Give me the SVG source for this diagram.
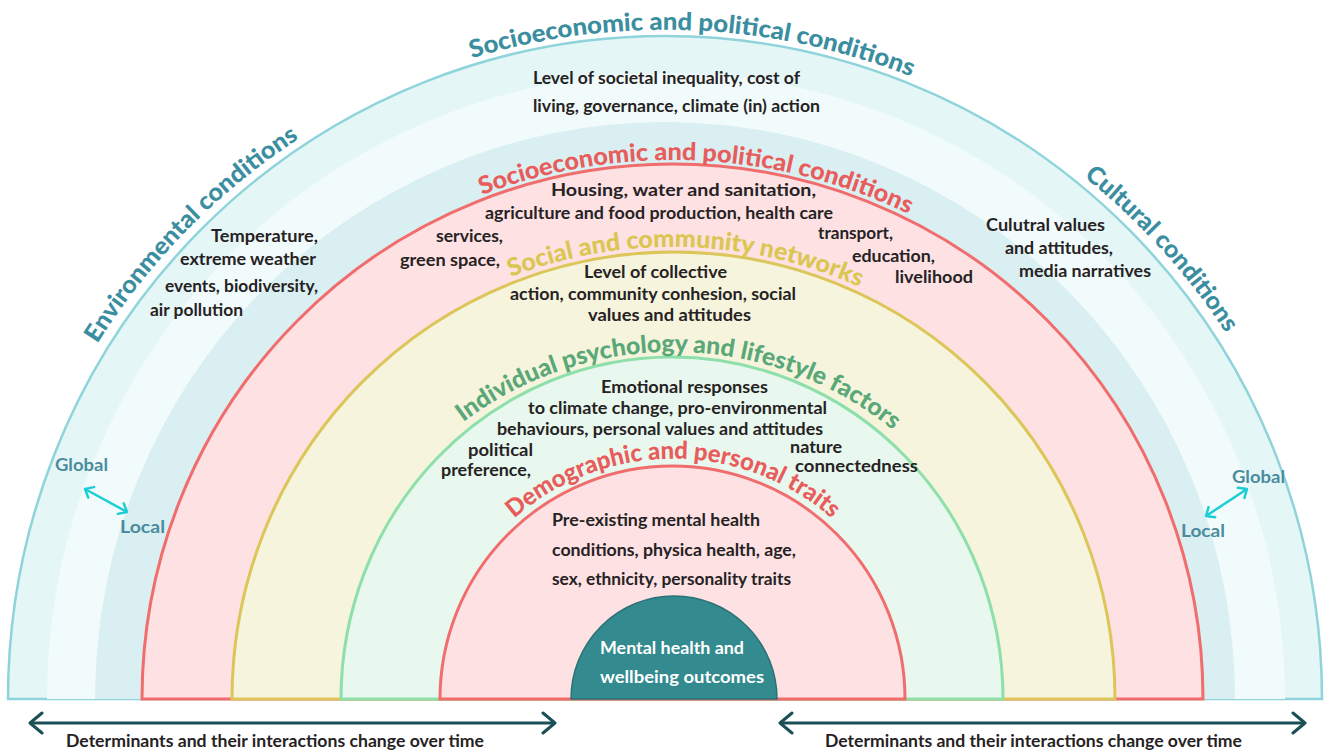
<svg xmlns="http://www.w3.org/2000/svg" width="1329" height="753" viewBox="0 0 1329 753">
<style>
.body{font-family:Lato,"Open Sans","Liberation Sans",sans-serif;font-weight:700;font-size:16.5px;fill:#262223}
.white{fill:#ffffff}
.title{font-family:Lato,"Open Sans","Liberation Sans",sans-serif;font-weight:900;font-size:24.5px}
.teal{fill:#3b8ea0}
.red{fill:#e85c5c}
.yellow{fill:#dac651}
.green{fill:#5aa878}
.gl{font-family:Lato,"Open Sans","Liberation Sans",sans-serif;font-weight:700;font-size:16.5px;fill:#4a8c9d}
.foot{font-family:Lato,"Open Sans","Liberation Sans",sans-serif;font-weight:700;font-size:16.5px;fill:#262223}
</style>
<defs>
<path id="pOuter" d="M 5.2 816.3 A 670 670 0 1 1 1324.8 816.3"/>
<path id="pRed" d="M 141.2 793.8 A 540 540 0 1 1 1204.8 793.8"/>
<path id="pYellow" d="M 226.9 778.7 A 453 453 0 1 1 1119.1 778.7"/>
<path id="pGreen" d="M 330.3 760.4 A 348 348 0 1 1 1015.7 760.4"/>
<path id="pDemo" d="M 435.7 741.8 A 241 241 0 1 1 910.3 741.8"/>
<marker id="headDark" viewBox="-14 -12 16 24" refX="0" refY="0" markerWidth="16" markerHeight="24" markerUnits="userSpaceOnUse" orient="auto-start-reverse">
<path d="M -12 -10 L 0 0 L -12 10" fill="none" stroke="#1b4f56" stroke-width="3" stroke-linecap="round" stroke-linejoin="round"/>
</marker>
<marker id="headCyan" viewBox="-10 -8 12 16" refX="0" refY="0" markerWidth="12" markerHeight="16" markerUnits="userSpaceOnUse" orient="auto-start-reverse">
<path d="M -7 -6 L 0 0 L -7 6" fill="none" stroke="#1dcdd6" stroke-width="2.5" stroke-linecap="round" stroke-linejoin="round"/>
</marker>
</defs>

<g id="ring-outer">
<path d="M 8 699 A 657 663 0 0 1 1322 699 Z" fill="#e5f6f7" stroke="#8fd4db" stroke-width="2.5"/>
<path d="M 47 699 A 619 626 0 0 1 1285 699 Z" fill="#f2fbfb"/>
<path d="M 95 699 A 570 577 0 0 1 1235 699 Z" fill="#daeff1"/>
<text class="title teal"><textPath href="#pOuter" startOffset="1197.4" text-anchor="middle" textLength="448" lengthAdjust="spacingAndGlyphs">Socioeconomic and political conditions</textPath></text>
<text class="title teal"><textPath href="#pOuter" startOffset="637.3" text-anchor="middle" textLength="290" lengthAdjust="spacingAndGlyphs">Environmental conditions</textPath></text>
<text class="title teal"><textPath href="#pOuter" startOffset="1727.7" text-anchor="middle" textLength="212" lengthAdjust="spacingAndGlyphs">Cultural conditions</textPath></text>
<text class="body" x="533" y="84" textLength="267" lengthAdjust="spacingAndGlyphs">Level of societal inequality, cost of</text>
<text class="body" x="533" y="112" textLength="287" lengthAdjust="spacingAndGlyphs">living, governance, climate (in) action</text>
<text class="body" x="211" y="242" textLength="107" lengthAdjust="spacingAndGlyphs">Temperature,</text>
<text class="body" x="180" y="265" textLength="136" lengthAdjust="spacingAndGlyphs">extreme weather</text>
<text class="body" x="165" y="292" textLength="153" lengthAdjust="spacingAndGlyphs">events, biodiversity,</text>
<text class="body" x="150" y="316" textLength="93" lengthAdjust="spacingAndGlyphs">air pollution</text>
<text class="body" x="986" y="231" textLength="119" lengthAdjust="spacingAndGlyphs">Culutral values</text>
<text class="body" x="1005" y="254" textLength="108" lengthAdjust="spacingAndGlyphs">and attitudes,</text>
<text class="body" x="1019" y="277" textLength="132" lengthAdjust="spacingAndGlyphs">media narratives</text>
<text class="gl" x="55" y="471" textLength="53" lengthAdjust="spacingAndGlyphs">Global</text>
<text class="gl" x="120" y="533" textLength="45" lengthAdjust="spacingAndGlyphs">Local</text>
<text class="gl" x="1232" y="483" textLength="53" lengthAdjust="spacingAndGlyphs">Global</text>
<text class="gl" x="1181" y="537" textLength="44" lengthAdjust="spacingAndGlyphs">Local</text>
</g>

<g id="ring-socioeconomic">
<path d="M 142 699 A 530.5 535 0 0 1 1203 699 Z" fill="#fde1e3" stroke="#f16d6d" stroke-width="3"/>
<text class="title red"><textPath href="#pRed" startOffset="966.5" text-anchor="middle" textLength="439" lengthAdjust="spacingAndGlyphs">Socioeconomic and political conditions</textPath></text>
<text class="body" x="551" y="196" textLength="265" lengthAdjust="spacingAndGlyphs">Housing, water and sanitation,</text>
<text class="body" x="485" y="219" textLength="348" lengthAdjust="spacingAndGlyphs">agriculture and food production, health care</text>
<text class="body" x="436" y="242" textLength="67" lengthAdjust="spacingAndGlyphs">services,</text>
<text class="body" x="400" y="266" textLength="100" lengthAdjust="spacingAndGlyphs">green space,</text>
<text class="body" x="818" y="239" textLength="75" lengthAdjust="spacingAndGlyphs">transport,</text>
<text class="body" x="852" y="262" textLength="83" lengthAdjust="spacingAndGlyphs">education,</text>
<text class="body" x="895" y="283" textLength="78" lengthAdjust="spacingAndGlyphs">livelihood</text>
</g>

<g id="ring-social">
<path d="M 232 699 A 441.5 447 0 0 1 1115 699 Z" fill="#f6f4dd" stroke="#dcc659" stroke-width="3"/>
<text class="title yellow"><textPath href="#pYellow" startOffset="803.7" text-anchor="middle" textLength="358" lengthAdjust="spacingAndGlyphs">Social and community networks</textPath></text>
<text class="body" x="584" y="278" textLength="143" lengthAdjust="spacingAndGlyphs">Level of collective</text>
<text class="body" x="510" y="300" textLength="286" lengthAdjust="spacingAndGlyphs">action, community conhesion, social</text>
<text class="body" x="588" y="321" textLength="163" lengthAdjust="spacingAndGlyphs">values and attitudes</text>
</g>

<g id="ring-individual">
<path d="M 341 699 A 331 342 0 0 1 1003 699 Z" fill="#e8f8ee" stroke="#8fdfab" stroke-width="3"/>
<text class="title green"><textPath href="#pGreen" startOffset="613.8" text-anchor="middle" textLength="463" lengthAdjust="spacingAndGlyphs">Individual psychology and lifestyle factors</textPath></text>
<text class="body" x="601" y="393" textLength="167" lengthAdjust="spacingAndGlyphs">Emotional responses</text>
<text class="body" x="528" y="414" textLength="299" lengthAdjust="spacingAndGlyphs">to climate change, pro-environmental</text>
<text class="body" x="497" y="435" textLength="326" lengthAdjust="spacingAndGlyphs">behaviours, personal values and attitudes</text>
<text class="body" x="468" y="456" textLength="65" lengthAdjust="spacingAndGlyphs">political</text>
<text class="body" x="441" y="476" textLength="90" lengthAdjust="spacingAndGlyphs">preference,</text>
<text class="body" x="790" y="453" textLength="52" lengthAdjust="spacingAndGlyphs">nature</text>
<text class="body" x="795" y="472" textLength="123" lengthAdjust="spacingAndGlyphs">connectedness</text>
</g>

<g id="ring-demographic">
<path d="M 440 699 A 232.5 233 0 0 1 905 699 Z" fill="#fde1e3" stroke="#f16d6d" stroke-width="3"/>
<text class="title red"><textPath href="#pDemo" startOffset="420.6" text-anchor="middle" textLength="347" lengthAdjust="spacingAndGlyphs">Demographic and personal traits</textPath></text>
<text class="body" x="552" y="526" textLength="208" lengthAdjust="spacingAndGlyphs">Pre-existing mental health</text>
<text class="body" x="552" y="556" textLength="244" lengthAdjust="spacingAndGlyphs">conditions, physica health, age,</text>
<text class="body" x="552" y="585" textLength="239" lengthAdjust="spacingAndGlyphs">sex, ethnicity, personality traits</text>
</g>

<g id="outcomes">
<path d="M 571 699 A 103 103 0 0 1 777 699 Z" fill="#338a8f" stroke="#2b7276" stroke-width="1.5"/>
<text class="body white" x="600" y="654" textLength="144" lengthAdjust="spacingAndGlyphs">Mental health and</text>
<text class="body white" x="600" y="683" textLength="164" lengthAdjust="spacingAndGlyphs">wellbeing outcomes</text>
</g>

<g id="connectors">
<line x1="30" y1="723" x2="555" y2="723" stroke="#1b4f56" stroke-width="3" marker-start="url(#headDark)" marker-end="url(#headDark)"/>
<line x1="780" y1="723" x2="1305" y2="723" stroke="#1b4f56" stroke-width="3" marker-start="url(#headDark)" marker-end="url(#headDark)"/>
<line x1="85" y1="489" x2="127" y2="512" stroke="#1dcdd6" stroke-width="2.5" marker-start="url(#headCyan)" marker-end="url(#headCyan)"/>
<line x1="1247" y1="489" x2="1206" y2="516" stroke="#1dcdd6" stroke-width="2.5" marker-start="url(#headCyan)" marker-end="url(#headCyan)"/>
</g>

<g id="footer">
<text class="foot" x="66" y="747" textLength="418" lengthAdjust="spacingAndGlyphs">Determinants and their interactions change over time</text>
<text class="foot" x="825" y="747" textLength="417" lengthAdjust="spacingAndGlyphs">Determinants and their interactions change over time</text>
</g>
</svg>
